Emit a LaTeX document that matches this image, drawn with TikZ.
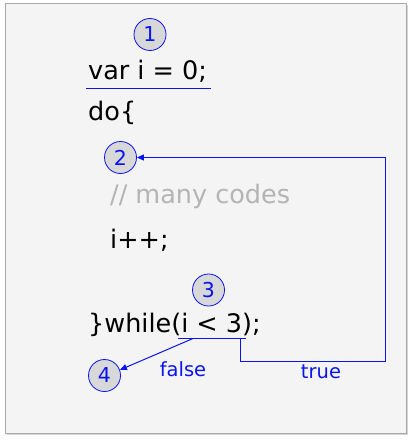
\documentclass[tikz,border=0pt]{standalone}
\usepackage{fontspec}
\setmainfont{DejaVu Sans}
\usetikzlibrary{arrows.meta,shadows}
\definecolor{panel}{HTML}{F4F4F4}
\definecolor{panelborder}{HTML}{A8A8A8}
\definecolor{mark}{HTML}{0A14F0}
\definecolor{bubble}{HTML}{D8D8D8}
\definecolor{comment}{HTML}{B4B4B4}
\tikzset{
  code/.style={anchor=base west,inner sep=0pt,font=\fontsize{25.5}{30}\selectfont},
  bubblenode/.style={circle,draw=mark,fill=bubble,line width=0.8pt,minimum size=32pt,inner sep=0pt,text=mark,font=\fontsize{20.5}{24}\selectfont},
  flow/.style={draw=mark,line width=1pt,-{Triangle[length=7pt,width=6pt]}},
  uline/.style={draw=mark,line width=1.8pt},
  lbl/.style={text=mark,font=\fontsize{19.5}{22}\selectfont,inner sep=0pt}
}
\begin{document}
\begin{tikzpicture}[x=1pt,y=-1pt]
\useasboundingbox (0,0) rectangle (412,441);
\node[draw=panelborder,fill=panel,line width=1pt,minimum width=401pt,minimum height=429pt,inner sep=0pt,drop shadow={shadow xshift=1pt,shadow yshift=-1.5pt,opacity=0.35}] (panel) at (206,218.5) {};
% code lines
\node[code] (l1) at (88,80) {var i = 0;};
\node[code] (l2) at (88,121) {do\{};
\node[code,text=comment] (l3) at (110,203) {// many codes};
\node[code] (l4) at (110,248) {i++;};
\node[code] (l5) at (88,332) {\}while(i < 3);};
% underlines
\coordinate (u1a) at (86,88.5);
\coordinate (u1b) at (211,88.5);
\draw[uline] (u1a) -- (u1b);
\coordinate (u3a) at (178,338.5);
\coordinate (u3b) at (246,338.5);
\draw[uline] (u3a) -- (u3b);
% bubbles
\node[bubblenode] (b1) at (150,34.5) {1};
\node[bubblenode] (b2) at (120.5,157.5) {2};
\node[bubblenode] (b3) at (208.5,290) {3};
\node[bubblenode] (b4) at (104.5,375.5) {4};
% connectors
\coordinate (t0) at (240,338.5);
\coordinate (t1) at (240,361);
\coordinate (t2) at (385,361);
\coordinate (t3) at (385,157.5);
\draw[flow] (t0) -- (t1) -- (t2) -- (t3) -- (b2.east);
\coordinate (f0) at (193,338.5);
\draw[flow] (f0) -- (b4.20);
\node[lbl] (lf) at (183,369) {false};
\node[lbl] (lt) at (321,372) {true};
\end{tikzpicture}
\end{document}
